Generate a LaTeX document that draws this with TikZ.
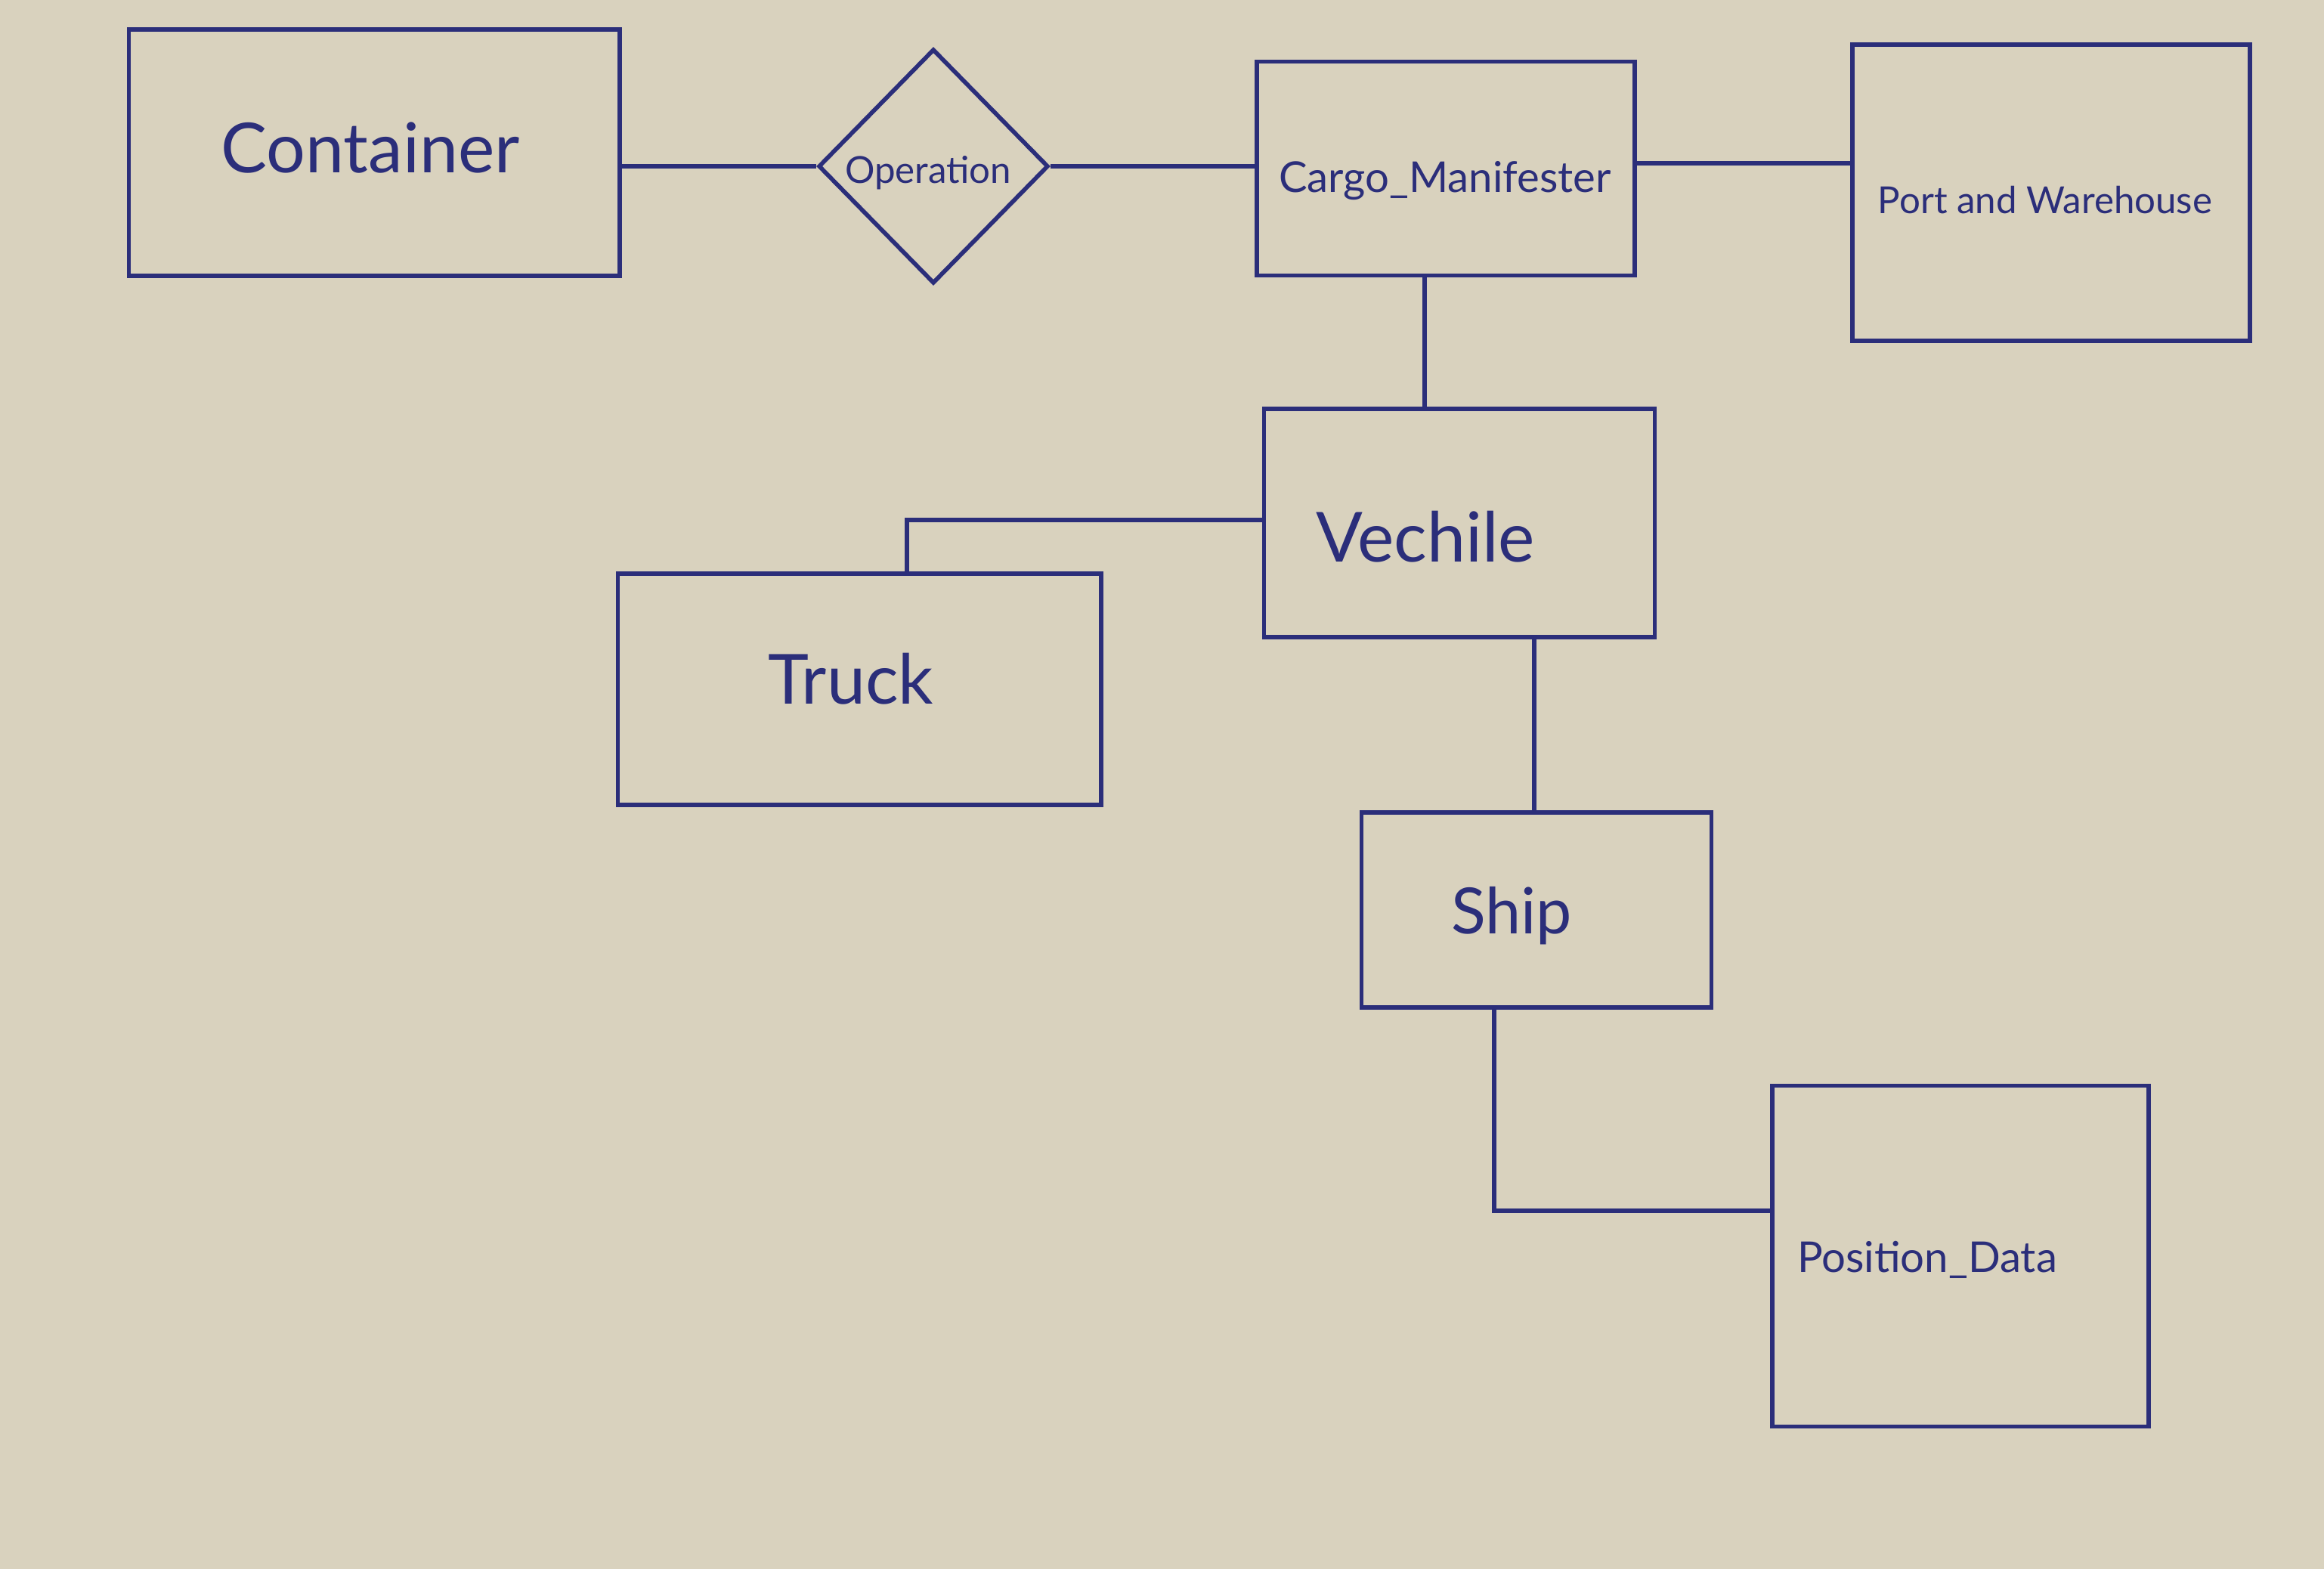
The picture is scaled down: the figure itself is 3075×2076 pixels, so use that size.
\documentclass[tikz,border=0pt]{standalone}
\usepackage{fontspec}
\setmainfont{Lato}
\usetikzlibrary{shapes.geometric}
\definecolor{paper}{HTML}{D9D2BE}
\definecolor{ink}{HTML}{2B2E7A}
\begin{document}
\begin{tikzpicture}[x=0.01cm,y=-0.01cm,
  ent/.style={draw=ink,line width=1.6pt,inner sep=0pt},
  rel/.style={draw=ink,line width=1.6pt,diamond,inner sep=0pt,minimum width=3.04cm,minimum height=3.1cm},
  lbl/.style={text=ink,font=\fontsize{#1}{#1}\selectfont},
  link/.style={draw=ink,line width=1.6pt}]
\fill[paper] (0,0) rectangle (3075,2076);
\useasboundingbox (0,0) rectangle (3075,2076);
% entities
\node[ent,minimum width=6.49cm,minimum height=3.26cm] (cont) at (495,202) {};
\node[rel] (op) at (1235,220) {};
\node[ent,minimum width=5.0cm,minimum height=2.83cm] (cargo) at (1913,223) {};
\node[ent,minimum width=5.26cm,minimum height=3.92cm] (port) at (2714,255) {};
\node[ent,minimum width=5.17cm,minimum height=3.02cm] (veh) at (1931,692) {};
\node[ent,minimum width=6.39cm,minimum height=3.06cm] (truck) at (1137,912) {};
\node[ent,minimum width=4.63cm,minimum height=2.58cm] (ship) at (2033,1204) {};
\node[ent,minimum width=4.98cm,minimum height=4.51cm] (pos) at (2594,1662) {};
% labels
\node[lbl=26] at (490,196) {Container};
\node[lbl=14] at (1228,229) {Operation};
\node[lbl=16] at (1912,239) {Cargo\_Manifester};
\node[lbl=14] at (2706,265) {Port and Warehouse};
\node[lbl=26] at (1886,710) {Vechile};
\node[lbl=26] at (1126,898) {Truck};
\node[lbl=24] at (2000,1212) {Ship};
\node[lbl=16] at (2550,1667) {Position\_Data};
% connectors
\draw[link] (cont.east |- op.west) -- (op.west);
\draw[link] (op.east) -- (cargo.west |- op.east);
\draw[link] (cargo.east |- 0,216) -- (port.west |- 0,216);
\draw[link] (cargo.south -| 1885,0) -- (veh.north -| 1885,0);
\draw[link] (veh.west |- 0,688) -- (1200,688) -- (truck.north -| 1200,0);
\draw[link] (veh.south -| 2030,0) -- (ship.north -| 2030,0);
\draw[link] (ship.south -| 1977,0) -- (1977,1602) -- (pos.west |- 0,1602);
\end{tikzpicture}
\end{document}
